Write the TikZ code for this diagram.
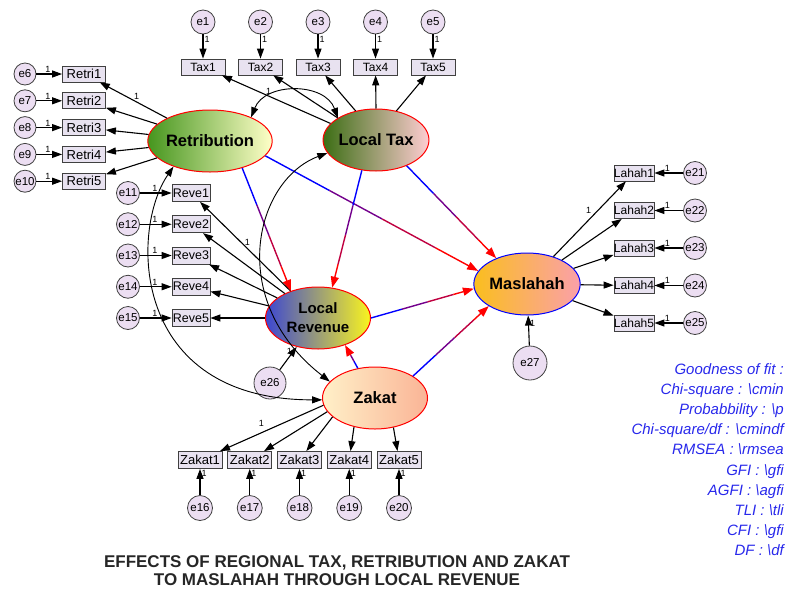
\documentclass[tikz,border=0pt]{standalone}
\usepackage{fontspec}
\setmainfont{Liberation Sans}
\usetikzlibrary{shapes.geometric,arrows.meta}

\definecolor{boxfill}{RGB}{232,226,240}
\definecolor{errfill}{RGB}{236,222,242}
\definecolor{fitblue}{RGB}{40,40,235}
\definecolor{retleft}{RGB}{70,150,30}
\definecolor{retright}{RGB}{255,255,200}
\definecolor{taxleft}{RGB}{60,110,20}
\definecolor{taxright}{RGB}{255,205,210}
\definecolor{revleft}{RGB}{60,70,210}
\definecolor{revright}{RGB}{250,245,30}
\definecolor{zakleft}{RGB}{255,240,200}
\definecolor{zakright}{RGB}{250,180,150}
\definecolor{masleft}{RGB}{250,190,30}
\definecolor{masright}{RGB}{250,160,170}

\tikzset{
  latent/.style={ellipse, draw=red, line width=1pt, minimum width=105pt,
    minimum height=62pt, inner sep=0pt, font=\fontsize{16.5}{17}\selectfont\bfseries},
  observed/.style={rectangle, draw=black!75, fill=boxfill, line width=0.8pt,
    minimum width=44pt, minimum height=16pt, inner sep=0pt, font=\fontsize{12.5}{12.5}\selectfont},
  errnode/.style={circle, draw=black!75, fill=errfill, line width=0.8pt,
    minimum size=24pt, inner sep=0pt, font=\fontsize{11.5}{11.5}\selectfont},
  arr/.style={-{Triangle[length=10pt,width=7pt]}, line width=1.1pt},
  cov/.style={{Triangle[length=10pt,width=7pt]}-{Triangle[length=10pt,width=7pt]}, line width=0.9pt},
  one/.style={font=\fontsize{9}{9}\selectfont, inner sep=1pt}
}

\newcommand{\effect}[2]{%
  \path (#1) -- (#2) coordinate[pos=0] (k0) coordinate[pos=0.3] (k1)
    coordinate[pos=0.55] (k2) coordinate[pos=0.8] (k3) coordinate[pos=1] (k4);
  \draw[line width=1.4pt, blue] (k0) -- (k1);
  \draw[line width=1.4pt, blue!55!red] (k1) -- (k2);
  \draw[line width=1.4pt, blue!25!red] (k2) -- (k3);
  \draw[line width=1.4pt, red, -{Triangle[length=11pt,width=8pt]}] (k3) -- (k4);
}

\begin{document}
\begin{tikzpicture}[x=1pt,y=-1pt]
  \useasboundingbox (0,0) rectangle (785,590);

  \node[latent, left color=retleft, right color=retright] (ret) at (210,141) {Retribution};
  \node[latent, left color=taxleft, right color=taxright] (ltax) at (376,140) {Local Tax};
  \node[latent, left color=revleft, right color=revright, align=center,
    font=\fontsize{15}{19}\selectfont\bfseries] (lrev) at (318,318) {Local\\Revenue};
  \node[latent, left color=zakleft, right color=zakright] (zakat) at (375,398) {Zakat};
  \node[latent, draw=blue, left color=masleft, right color=masright] (masl) at (527,284) {Maslahah};

  \foreach \i/\a in {1/160,2/150,3/125,4/90,5/55} {
    \node[observed, font=\fontsize{12}{12}\selectfont] (tax\i) at ({203+57.5*(\i-1)},67) {Tax\i};
    \node[errnode] (e\i) at ({203+57.5*(\i-1)},22) {e\i};
    \draw[arr] (e\i) -- (tax\i) node[one, pos=0.2, right] {1};
    \draw[arr] (ltax.\a) -- (tax\i);
  }
  \path (ltax.160) -- (tax1) node[one, pos=0.57, above] {1};

  \foreach \i [count=\n from 6] in {1,...,5} {
    \node[observed, minimum width=43pt, font=\fontsize{13}{13}\selectfont] (retri\i) at (84,{74+26.8*(\i-1)}) {Retri\i};
    \node[errnode, minimum size=22pt] (e\n) at (25,{74+26.8*(\i-1)}) {e\n};
    \draw[arr] (e\n) -- (retri\i) node[one, pos=0.45, above] {1};
    \draw[arr] (ret) -- (retri\i);
  }
  \path (ret) -- (retri1) node[one, pos=0.45, above=1pt] {1};

  \foreach \i [count=\n from 11] in {1,...,5} {
    \node[observed, minimum width=38pt, minimum height=17pt] (reve\i) at (191,{193+31.25*(\i-1)}) {Reve\i};
    \node[errnode, minimum size=23pt] (e\n) at (128,{193+31.25*(\i-1)}) {e\n};
    \draw[arr] (e\n) -- (reve\i) node[one, pos=0.47, above] {1};
    \draw[arr] (lrev) -- (reve\i);
  }
  \path (lrev) -- (reve1) node[one, pos=0.55, right=3pt] {1};

  \foreach \i/\a [count=\n from 16] in {1/188,2/196,3/204,4/234,5/302} {
    \node[observed, minimum height=17pt, font=\fontsize{13}{13}\selectfont] (zakat\i) at ({200+49.75*(\i-1)},460) {Zakat\i};
    \node[errnode, minimum size=25pt] (e\n) at ({200+49.75*(\i-1)},508) {e\n};
    \draw[arr] (e\n) -- (zakat\i) node[one, pos=0.83, right] {1};
    \draw[arr] (zakat.\a) -- (zakat\i);
  }
  \path (zakat.188) -- (zakat1) node[one, pos=0.6, above=5pt] {1};

  \foreach \i [count=\n from 21] in {1,...,5} {
    \node[observed, minimum width=40pt, font=\fontsize{12}{12}\selectfont] (lahah\i) at (634,{173+37.5*(\i-1)}) {Lahah\i};
    \node[errnode, minimum size=23pt] (e\n) at (695,{173+37.5*(\i-1)}) {e\n};
    \draw[arr] (e\n) -- (lahah\i) node[one, pos=0.55, above] {1};
    \draw[arr] (masl) -- (lahah\i);
  }
  \path (masl) -- (lahah1) node[one, pos=0.62, left=6pt] {1};

  \node[errnode, minimum size=32pt] (e26) at (270,383) {e26};
  \draw[arr] (e26) -- (lrev) node[one, pos=0.8, left] {1};
  \node[errnode, minimum size=34pt] (e27) at (530,363) {e27};
  \draw[arr] (e27) -- (masl) node[one, pos=0.75, right] {1};

  \effect{ret.-40}{lrev.135}
  \effect{ret.-15}{masl.165}
  \effect{ltax.245}{lrev.65}
  \effect{ltax.-40}{masl.140}
  \effect{lrev.0}{masl.185}
  \effect{zakat.120}{lrev.-45}
  \effect{zakat.30}{masl.210}

  \draw[cov] (ret.30) .. controls (265,82) and (325,82) .. (ltax.150);
  \draw[cov] (ltax.195) .. controls (255,180) and (225,300) .. (zakat.160);
  \draw[cov] (ret.215) .. controls (130,230) and (130,400) .. (zakat.182);

  \node[anchor=north east, align=right, text=fitblue, inner sep=0pt,
    font=\fontsize{15}{20.2}\selectfont\itshape] (fit) at (784,363)
    {Goodness of fit :\\
     Chi-square : \textbackslash cmin\\
     Probabbility : \textbackslash p\\
     Chi-square/df : \textbackslash cmindf\\
     RMSEA : \textbackslash rmsea\\
     GFI : \textbackslash gfi\\
     AGFI : \textbackslash agfi\\
     TLI : \textbackslash tli\\
     CFI : \textbackslash gfi\\
     DF : \textbackslash df};

  \node[align=center, text=black!85, inner sep=0pt,
    font=\fontsize{17}{18}\selectfont\bfseries] (title) at (337,571)
    {EFFECTS OF REGIONAL TAX, RETRIBUTION AND ZAKAT\\
     TO MASLAHAH THROUGH LOCAL REVENUE};
\end{tikzpicture}
\end{document}
